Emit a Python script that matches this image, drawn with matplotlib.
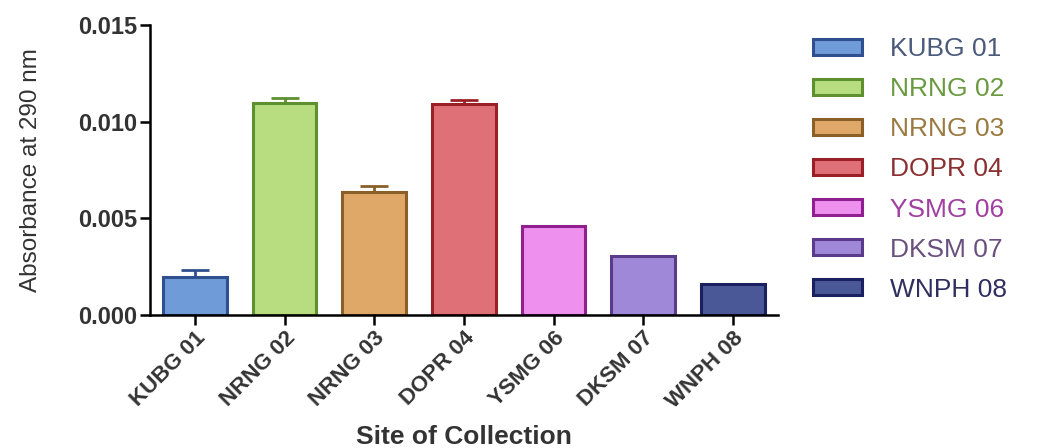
import numpy as np
import matplotlib.pyplot as plt

sites = ["KUBG 01", "NRNG 02", "NRNG 03", "DOPR 04", "YSMG 06", "DKSM 07", "WNPH 08"]
absorbance = [0.00197, 0.01095, 0.00637, 0.0109, 0.00458, 0.00306, 0.00161]
err = [0.00037, 0.0003, 0.0003, 0.0002, 0.0, 0.0, 0.0]

fill_colors = ["#6f9bd8", "#b8dc80", "#e0a868", "#e07078", "#ee90ee", "#a088d8", "#4a5898"]
edge_colors = ["#2f4f8f", "#5f9030", "#8a6028", "#9a2028", "#902090", "#5a3a8a", "#1a2060"]
text_colors = ["#4a5a7a", "#6a9a40", "#9a7a40", "#8a3030", "#a040a0", "#6a5080", "#303060"]

plt.rcParams['font.family'] = ['Liberation Sans', 'DejaVu Sans']

fig = plt.figure(figsize = (10.37, 4.48), dpi = 100)
axs = fig.add_axes([0.1447, 0.297, 0.6053, 0.647])

x = np.arange(len(sites))
for i in range(len(sites)):
    axs.bar(x[i], absorbance[i], width = 0.71, color = fill_colors[i], edgecolor = edge_colors[i],
            lw = 2.2, label = sites[i], zorder = 2)
    if err[i] > 0:
        axs.errorbar(x[i], absorbance[i], yerr = [[0], [err[i]]], fmt = "none", ecolor = edge_colors[i],
                     elinewidth = 2, capsize = 10, capthick = 2, zorder = 1)

axs.set_xlim(-0.5, 6.5)
axs.set_ylim(0, 0.015)
axs.set_yticks([0.0, 0.005, 0.010, 0.015])
axs.set_yticklabels(["0.000", "0.005", "0.010", "0.015"], fontweight = "bold", fontsize = 17, color = "#333333")
axs.set_xticks(x)
axs.set_xticklabels(sites, rotation = 45, ha = "right", rotation_mode = "anchor",
                    fontweight = "bold", fontsize = 16, color = "#333333")

for side in ["top", "right"]:
    axs.spines[side].set_visible(False)
axs.spines["left"].set_linewidth(1.8)
axs.spines["bottom"].set_linewidth(1.8)
axs.tick_params(axis = "both", width = 1.8, length = 7, pad = 2, direction = "out")

axs.set_ylabel("Absorbance at 290 nm", fontsize = 17.5, color = "#333333")
axs.yaxis.set_label_coords(-0.172, 0.5)
axs.set_xlabel("Site of Collection", fontweight = "bold", fontsize = 19, color = "#333333")
axs.xaxis.set_label_coords(0.5, -0.38)

leg = axs.legend(loc = "upper left", bbox_to_anchor = (0.784, 0.917), bbox_transform = fig.transFigure,
                 frameon = False, fontsize = 19, borderpad = 0, borderaxespad = 0,
                 handlelength = 1.86, handleheight = 0.55, labelspacing = 0.61, handletextpad = 1.06)
for t, c in zip(leg.get_texts(), text_colors):
    t.set_color(c)

plt.savefig("out.png", dpi = 100)
